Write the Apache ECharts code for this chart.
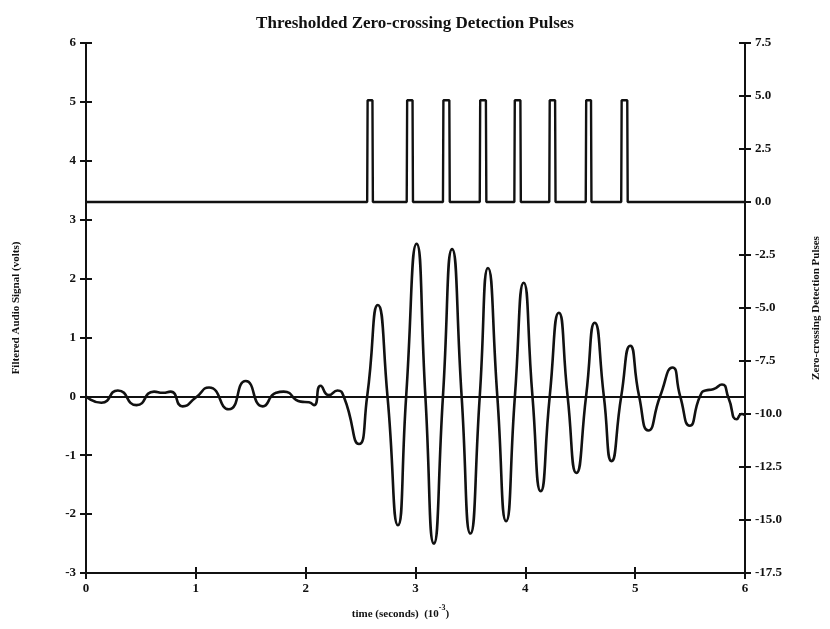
<!DOCTYPE html>
<html>
<head>
<meta charset="utf-8">
<script src="https://cdn.jsdelivr.net/npm/echarts@6/dist/echarts.min.js"></script>
<style>
html,body{margin:0;padding:0;background:#fff;}
#c{width:830px;height:629px;}
</style>
</head>
<body>
<div id="c"></div>
<script>
// Filtered audio signal (time in ms, volts)
var audioT = [0.00,0.14,0.29,0.46,0.62,0.70,0.77,0.88,1.00,1.12,1.30,1.455,1.61,1.73,1.80,1.955,2.03,2.076,2.136,2.21,2.29,2.35,2.485,2.56,2.657,2.745,2.84,2.915,3.01,3.09,3.167,3.25,3.333,3.42,3.50,3.585,3.66,3.745,3.825,3.905,3.985,4.065,4.14,4.222,4.305,4.385,4.465,4.553,4.632,4.715,4.785,4.873,4.955,5.036,5.12,5.227,5.34,5.41,5.497,5.59,5.64,5.71,5.79,5.85,5.925,5.97,6.00];
var audioV = [0.00,-0.11,0.10,-0.15,0.08,0.06,0.08,-0.17,-0.02,0.15,-0.22,0.26,-0.17,0.06,0.08,-0.09,-0.10,-0.15,0.18,0.02,0.10,-0.02,-0.81,0.00,1.55,0.00,-2.19,0.00,2.59,0.00,-2.50,0.00,2.50,0.00,-2.33,0.00,2.18,0.00,-2.12,0.00,1.93,0.00,-1.61,0.00,1.42,0.00,-1.30,0.00,1.25,0.00,-1.10,0.00,0.86,0.00,-0.58,0.00,0.49,0.00,-0.50,0.00,0.10,0.12,0.20,-0.03,-0.39,-0.30,-0.32];

// Zero-crossing detection pulses (start / end times in ms, height)
var pulseStart = [2.56,2.92,3.25,3.585,3.90,4.218,4.55,4.873];
var pulseEnd   = [2.61,2.975,3.31,3.643,3.957,4.273,4.60,4.93];
var pulseHigh = 4.8;
var pulseLow = 0.0;

// Axis ticks
var xTicks = {min:0, max:6, interval:1};
var leftTicks = {min:-3, max:6, interval:1};
var rightTicks = {min:-17.5, max:7.5, interval:2.5};

var audioData = audioT.map(function(t,i){return [t, audioV[i]];});
var pulseData = [[0, pulseLow]];
pulseStart.forEach(function(s,i){
  var e = pulseEnd[i];
  pulseData.push([s, pulseLow],[s+0.004, pulseHigh],[e-0.002, pulseHigh],[e+0.002, pulseLow]);
});
pulseData.push([6, pulseLow]);

var serif = 'Liberation Serif';
var lblStyle = {color:'#111', fontFamily:serif, fontWeight:'bold', fontSize:13};
var axLine = {show:true, onZero:false, lineStyle:{color:'#111', width:2}};
var tickStyle = {color:'#111', width:2};
var gridBox = {left:86, right:85, top:43, bottom:56};

function yAx(grid, pos, tk, inside, labels, fmt, name){
  return {
    gridIndex:grid, type:'value', position:pos, min:tk.min, max:tk.max, interval:tk.interval,
    axisLine: inside ? {show:false} : axLine,
    axisTick:{show:true, inside:inside, length:6, lineStyle:tickStyle},
    axisLabel: labels ? Object.assign({show:true, margin:10, formatter:fmt}, lblStyle) : {show:false},
    splitLine:{show:false},
    name: name || '', nameLocation:'middle', nameRotate:90, nameGap: pos==='left'?64:66,
    nameTextStyle:{color:'#111', fontFamily:serif, fontWeight:'bold', fontSize:11}
  };
}

var chart = echarts.init(document.getElementById('c'), null, {renderer:'canvas'});
chart.setOption({
  animation:false,
  backgroundColor:'#fff',
  title:{text:'Thresholded Zero-crossing Detection Pulses', left:'center', top:10,
    textStyle:{color:'#111', fontFamily:serif, fontWeight:'bold', fontSize:17}},
  grid:[Object.assign({}, gridBox), Object.assign({}, gridBox)],
  xAxis:[
    {gridIndex:0, type:'value', min:xTicks.min, max:xTicks.max, interval:xTicks.interval, position:'bottom',
     axisLine:axLine,
     axisTick:{show:true, length:6, lineStyle:tickStyle},
     axisLabel:Object.assign({margin:9}, lblStyle),
     splitLine:{show:false},
     name:'{a|time (seconds)  (10}{s|-3}{a|)}', nameLocation:'middle', nameGap:31,
     nameTextStyle:{padding:[0,30,0,0], rich:{
       a:{color:'#111', fontFamily:serif, fontWeight:'bold', fontSize:11, verticalAlign:'bottom', lineHeight:16},
       s:{color:'#111', fontFamily:serif, fontWeight:'bold', fontSize:8, verticalAlign:'top', lineHeight:16}
     }}},
    {gridIndex:1, type:'value', min:xTicks.min, max:xTicks.max, interval:xTicks.interval, position:'bottom',
     axisLine:{show:false, onZero:false}, axisTick:{show:true, inside:true, length:6, lineStyle:tickStyle},
     axisLabel:{show:false}, splitLine:{show:false}}
  ],
  yAxis:[
    yAx(0, 'left', leftTicks, false, true, function(v){return String(v);}, 'Filtered Audio Signal (volts)'),
    yAx(0, 'right', rightTicks, false, true, function(v){return v.toFixed(1);}, 'Zero-crossing Detection Pulses'),
    yAx(1, 'left', leftTicks, true, false),
    yAx(1, 'right', rightTicks, true, false)
  ],
  series:[
    {type:'line', xAxisIndex:0, yAxisIndex:0, data:audioData, smooth:0.6, showSymbol:false,
     lineStyle:{color:'#111', width:2.6},
     markLine:{silent:true, symbol:['none','none'], label:{show:false},
       lineStyle:{color:'#111', width:2, type:'solid'}, data:[{yAxis:0}]}},
    {type:'line', xAxisIndex:0, yAxisIndex:1, data:pulseData, showSymbol:false,
     lineStyle:{color:'#111', width:2.4}}
  ]
});
</script>
</body>
</html>
